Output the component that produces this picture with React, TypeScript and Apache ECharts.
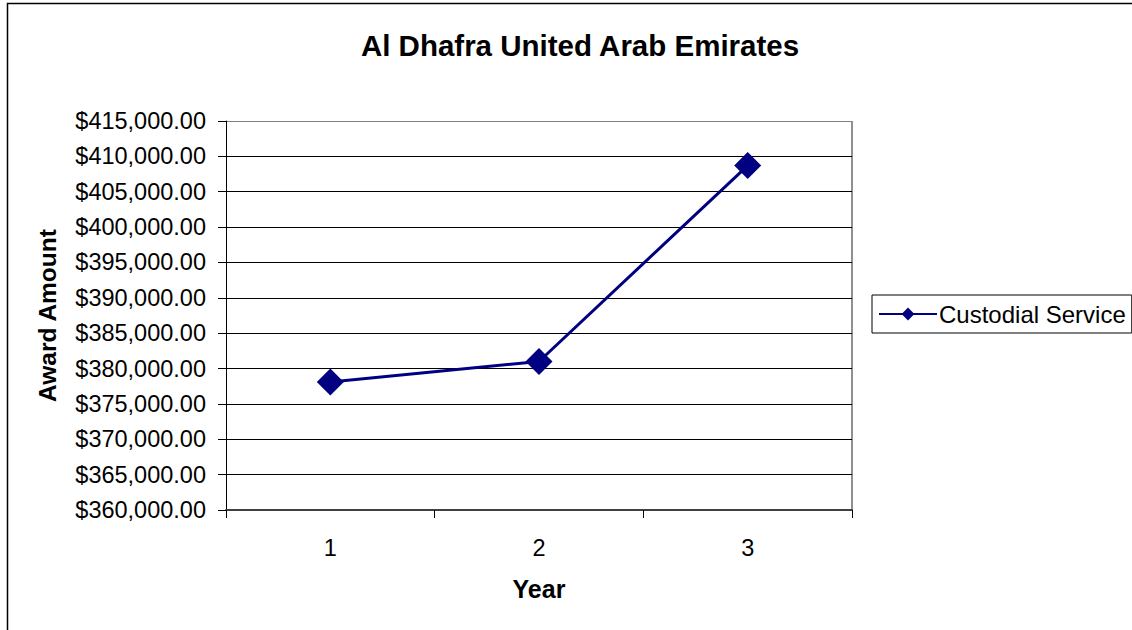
import React, { useEffect, useRef } from "react";
import * as echarts from "echarts";

const title = "Al Dhafra United Arab Emirates";
const categories = ["1", "2", "3"];
const seriesName = "Custodial Service";
const values = [378100, 381000, 408700];
const yMin = 360000;
const yMax = 415000;
const yInterval = 5000;
const xAxisName = "Year";
const yAxisName = "Award Amount";

const FONT = "'Liberation Sans', Arial, sans-serif";

function fmt(v: number): string {
  return "$" + v.toLocaleString("en-US", { minimumFractionDigits: 2, maximumFractionDigits: 2 });
}

export default function App() {
  const ref = useRef<HTMLDivElement>(null);
  useEffect(() => {
    if (!ref.current) return;
    const chart = echarts.init(ref.current, null, { renderer: "svg" });
    const nLines = Math.round((yMax - yMin) / yInterval) + 1;
    const splitColors: string[] = [];
    for (let i = 0; i < nLines; i++) splitColors.push(i === nLines - 1 ? "#808080" : "#000000");
    chart.setOption({
      animation: false,
      backgroundColor: "#ffffff",
      title: {
        text: title,
        left: 575,
        textAlign: "center",
        top: 25,
        textStyle: { fontFamily: FONT, fontSize: 29.5, fontWeight: "bold", color: "#000" },
      },
      grid: { left: 226, top: 121, width: 626, height: 389, containLabel: false },
      legend: {
        left: 872,
        top: 295,
        orient: "vertical",
        borderColor: "#000",
        borderWidth: 1,
        padding: [7, 6, 7, 6],
        itemWidth: 58,
        itemHeight: 16,
        itemGap: 0,
        textStyle: { fontFamily: FONT, fontSize: 24, color: "#000", padding: [0, 0, 0, -3] },
        data: [seriesName],
      },
      xAxis: {
        type: "category",
        data: categories,
        boundaryGap: true,
        name: xAxisName,
        nameLocation: "middle",
        nameGap: 66,
        nameTextStyle: { fontFamily: FONT, fontSize: 25, fontWeight: "bold", color: "#000" },
        axisLine: { show: true, lineStyle: { color: "#404040", width: 2 } },
        axisTick: { show: true, length: 8, inside: false, alignWithLabel: false, lineStyle: { color: "#000" } },
        axisLabel: { fontFamily: FONT, fontSize: 23.5, color: "#000", margin: 26 },
        splitLine: { show: false },
      },
      yAxis: {
        type: "value",
        min: yMin,
        max: yMax,
        interval: yInterval,
        name: yAxisName,
        nameLocation: "middle",
        nameGap: 166,
        nameRotate: 90,
        nameTextStyle: { fontFamily: FONT, fontSize: 24.5, fontWeight: "bold", color: "#000" },
        axisLine: { show: true, lineStyle: { color: "#000", width: 1 } },
        axisTick: { show: true, length: 8, inside: false, lineStyle: { color: "#000" } },
        axisLabel: {
          fontFamily: FONT,
          fontSize: 23.5,
          color: "#000",
          margin: 20,
          formatter: (v: number) => fmt(v),
        },
        splitLine: { show: true, lineStyle: { color: splitColors, width: 1 } },
      },
      graphic: [
        {
          type: "rect",
          shape: { x: 7.5, y: 3.5, width: 1140, height: 640 },
          style: { fill: "none", stroke: "#000", lineWidth: 1.5 },
          silent: true,
        },
        {
          type: "line",
          shape: { x1: 852, y1: 121, x2: 852, y2: 510 },
          style: { stroke: "#909090", lineWidth: 2 },
          silent: true,
        },
      ],
      series: [
        {
          name: seriesName,
          type: "line",
          data: values,
          symbol: "diamond",
          symbolSize: 27,
          itemStyle: { color: "#000080" },
          lineStyle: { color: "#000080", width: 3 },
        },
      ],
    });
    return () => chart.dispose();
  }, []);
  return (
    <div
      ref={ref}
      style={{ position: "fixed", left: 0, top: 0, width: 1132, height: 630, background: "#fff" }}
    />
  );
}
